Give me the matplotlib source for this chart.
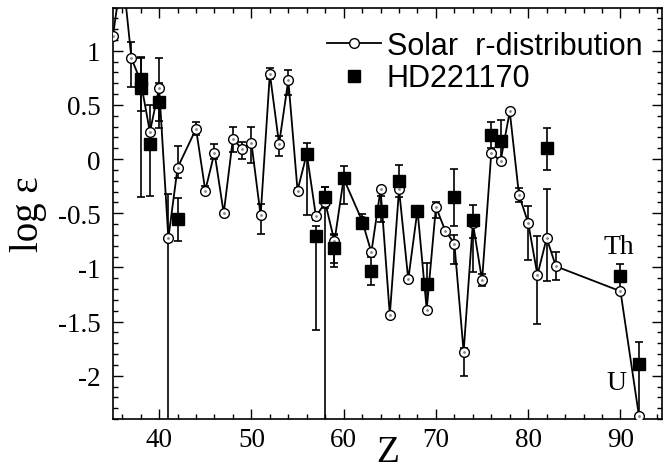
import numpy as np
import matplotlib
matplotlib.use("Agg")
import matplotlib.pyplot as plt
from matplotlib.ticker import MultipleLocator, FixedLocator
from matplotlib.lines import Line2D

plt.rcParams['axes.unicode_minus'] = False

# ---------------- data ----------------
solar_Z = [35, 36, 37, 38, 39, 40, 41, 42, 44, 45, 46, 47, 48, 49, 50, 51, 52, 53,
           54, 55, 56, 57, 58, 59, 60, 62, 63, 64, 65, 66, 67, 68, 69, 70, 71, 72,
           73, 74, 75, 76, 77, 78, 79, 80, 81, 82, 83, 90, 92]
solar_logeps = [1.14, 1.75, 0.93, 0.72, 0.25, 0.66, -0.73, -0.08, 0.28, -0.29, 0.06,
                -0.50, 0.19, 0.09, 0.15, -0.52, 0.79, 0.14, 0.73, -0.29, 0.05, -0.53,
                -0.40, -0.76, -0.18, -0.57, -0.86, -0.28, -1.44, -0.28, -1.11, -0.47,
                -1.39, -0.44, -0.66, -0.78, -1.78, -0.59, -1.12, 0.06, -0.02, 0.44,
                -0.33, -0.59, -1.07, -0.73, -0.99, -1.22, -2.37]
nan = np.nan
# lower / upper bounds of the solar error bars (nan = none shown)
solar_low = [nan, nan, 0.67, nan, nan, 0.35, -3.0, -0.17, 0.22, -0.32, 0.00, nan, 0.07,
             0.00, -0.04, -0.69, 0.74, 0.03, 0.59, -0.31, nan, -0.56, -3.0, -0.96, nan,
             nan, nan, nan, nan, nan, nan, nan, nan, -0.54, nan, -0.97, -2.00, -0.725,
             -1.17, nan, nan, nan, -0.40, -0.93, -1.52, -1.13, -1.12, nan, nan]
solar_high = [nan, nan, 1.08, nan, nan, 0.70, -0.32, 0.12, 0.34, -0.25, 0.14, nan, 0.30,
              0.16, 0.30, -0.41, 0.84, 0.21, 0.82, -0.27, nan, -0.52, -0.26, -0.70, nan,
              nan, nan, nan, nan, nan, nan, nan, nan, -0.40, nan, -0.70, -1.74, -0.55,
              -1.06, nan, nan, nan, -0.27, -0.43, -0.71, -0.28, -0.86, nan, nan]

hd_Z = [38, 38, 39, 40, 42, 56, 57, 58, 59, 60, 62, 63, 64, 66, 68, 69, 72, 74,
        76, 77, 82, 90, 92]
hd_logeps = [0.74, 0.66, 0.14, 0.53, -0.55, 0.05, -0.71, -0.35, -0.82, -0.17, -0.59,
             -1.03, -0.48, -0.20, -0.48, -1.15, -0.35, -0.56, 0.22, 0.17, 0.10,
             -1.08, -1.89]
hd_low = [-0.35, 0.44, -0.34, 0.29, -0.76, -0.52, -1.58, -0.45, -1.00, -0.41, -0.65,
          -1.16, -0.58, -0.35, -0.52, -1.42, -0.62, -1.04, 0.10, 0.00, -0.10,
          -1.20, -2.37]
hd_high = [0.94, 0.93, 0.50, 0.93, -0.36, 0.15, -0.62, -0.26, -0.69, -0.06, -0.51,
           -0.90, -0.345, -0.05, -0.44, -0.957, -0.09, -0.42, 0.34, 0.36, 0.29,
           -0.97, -1.69]

labels = ["Solar  r-distribution", "HD221170"]
annotations = [("Th", 88.2, -0.87), ("U", 88.5, -2.12)]

# ---------------- figure ----------------
W, H = 666, 477
fig = plt.figure(figsize=(W / 100, H / 100), dpi=100)
ax = fig.add_axes([113 / W, 57 / H, 549 / W, 411.5 / H])

serif = ["Liberation Serif", "DejaVu Serif"]
sans = ["Liberation Sans", "DejaVu Sans"]

sZ = np.array(solar_Z, float)
sv = np.array(solar_logeps)
sl = np.array(solar_low)
sh = np.array(solar_high)
m = ~np.isnan(sl)
ax.errorbar(sZ[m], sv[m], yerr=[sv[m] - sl[m], sh[m] - sv[m]], fmt='none',
            ecolor='black', elinewidth=1.2, capsize=2.8, capthick=1.2, zorder=2)

hZ = np.array(hd_Z, float)
hv = np.array(hd_logeps)
hl = np.array(hd_low)
hh = np.array(hd_high)
ax.errorbar(hZ, hv, yerr=[hv - hl, hh - hv], fmt='none',
            ecolor='black', elinewidth=1.2, capsize=2.8, capthick=1.2, zorder=2)

ax.plot(sZ, sv, '-', color='black', lw=1.3, marker='o', ms=7,
        mfc='white', mec='black', mew=1.0, zorder=3)
ax.plot(sZ, sv, linestyle='none', marker='o', ms=1.0, mfc='#888888',
        mec='#888888', zorder=3.5)
ax.plot(hZ, hv, linestyle='none', marker='s', ms=8.5, mfc='black',
        mec='black', zorder=4)

for txt, x, y in annotations:
    ax.text(x, y, txt, fontsize=20, family=serif, ha='left', va='baseline')

ax.set_xlim(35, 94.5)
ax.set_ylim(-2.4, 1.4)

ax.xaxis.set_major_locator(FixedLocator([40, 50, 60, 70, 80, 90]))
ax.xaxis.set_minor_locator(MultipleLocator(2))
ax.yaxis.set_major_locator(MultipleLocator(0.5))
ax.yaxis.set_minor_locator(MultipleLocator(0.1))
ax.set_yticks([-2, -1.5, -1, -0.5, 0, 0.5, 1])
ax.set_yticklabels(['-2', '-1.5', '-1', '-0.5', '0', '0.5', '1'])

ax.tick_params(which='both', direction='in', top=True, right=True, width=1.0)
ax.tick_params(which='major', length=7, labelsize=19.5)
ax.tick_params(axis='y', which='major', pad=9)
ax.tick_params(axis='x', which='major', pad=6)
ax.tick_params(which='minor', length=3.5)
for lab in ax.get_xticklabels() + ax.get_yticklabels():
    lab.set_family(serif)
for s in ax.spines.values():
    s.set_linewidth(1.2)

ax.set_xlabel("Z", fontsize=27, family=serif, labelpad=-13)
ax.set_ylabel("log ε", fontsize=28, family=serif, labelpad=8)

handles = [Line2D([], [], color='black', lw=1.3, marker='o', ms=7, mfc='white',
                  mec='black', mew=1.0),
           Line2D([], [], linestyle='none', marker='s', ms=8.5, mfc='black',
                  mec='black')]
leg = ax.legend(handles, labels, loc='upper left', bbox_to_anchor=(0.39, 0.943),
                frameon=False, borderpad=0, borderaxespad=0, handlelength=1.75,
                handletextpad=0.2, labelspacing=0.08,
                prop={'family': sans, 'size': 22})

fig.savefig("out.png", dpi=100)
